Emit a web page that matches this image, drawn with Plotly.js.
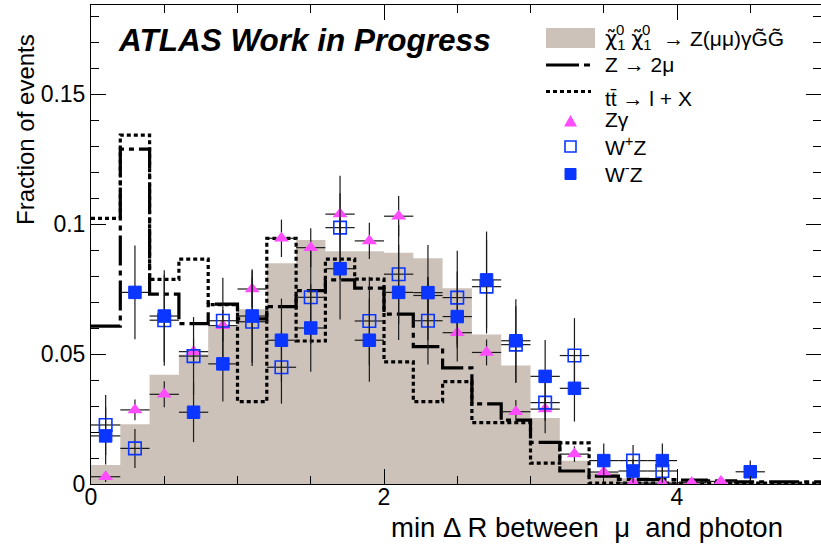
<!DOCTYPE html>
<html>
<head>
<meta charset="utf-8">
<script src="https://cdn.plot.ly/plotly-3.0.1.min.js"></script>
<style>
  html, body { margin: 0; padding: 0; background: #ffffff; overflow: hidden; }
  #chart { width: 821px; height: 549px; }
</style>
</head>
<body>
<div id="chart"></div>
<script>
// min ΔR(μ, γ) distributions, normalised to unit area, 25 bins of width 0.2 on [0, 5]
const binLow = 0.0;
const binWidth = 0.2;
const nBins = 25;

// Signal: χ̃⁰₁χ̃⁰₁ → Z(μμ)γG̃G̃ (filled histogram)
const signal = [0.0073, 0.0230, 0.0420, 0.0498, 0.0605, 0.0672, 0.0849, 0.0938, 0.0895, 0.0895,
                0.0889, 0.0868, 0.0753, 0.0575, 0.0456, 0.0254, 0.0089, 0.0041, 0.0022, 0.0010,
                0.0008, 0.0005, 0.0003, 0.0002, 0.0002];

// Z → 2μ (dash-dot histogram)
const zmumu = [0.0607, 0.1288, 0.0730, 0.0617, 0.0692, 0.0635, 0.0682, 0.0744, 0.0785, 0.0753,
               0.0653, 0.0528, 0.0447, 0.0308, 0.0246, 0.0160, 0.0050, 0.0030, 0.0018, 0.0017,
               0.0015, 0.0012, 0.0008, 0.0008, 0.0008];

// tt̄ → l + X (dotted histogram)
const ttbar = [0.1022, 0.1342, 0.0787, 0.0865, 0.0690, 0.0317, 0.0945, 0.0550, 0.0865, 0.0788,
               0.0470, 0.0317, 0.0394, 0.0236, 0.0236, 0.0080, 0.0158, 0.0003, 0.0003, 0.0003,
               0.0003, 0.0003, 0.0003, 0.0003, 0.0003];

// Zγ (points with statistical errors)
const zgamma = [0.0028, 0.0285, 0.0345, 0.0509, 0.0609, 0.0750, 0.0945, 0.0909, 0.1038, 0.0935,
                0.1030, 0.0725, 0.0582, 0.0506, 0.0278, 0.0288, 0.0115, 0.0046, 0.0004, 0.0003,
                0.0005, 0.0010, null, null, null];
const zgammaErr = [0.0020, 0.0040, 0.0050, 0.0050, 0.0060, 0.0070, 0.0072, 0.0075, 0.0080, 0.0070,
                   0.0078, 0.0070, 0.0060, 0.0050, 0.0045, 0.0045, 0.0030, 0.0020, 0.0005, 0.0005,
                   0.0005, 0.0008, null, null, null];

// W+Z
const wplusz = [0.0227, 0.0137, 0.0630, 0.0492, 0.0628, 0.0624, 0.0449, 0.0718, 0.0986, 0.0627,
                0.0807, 0.0628, 0.0717, 0.0759, 0.0536, 0.0313, 0.0494, null, 0.0090, 0.0050,
                null, null, null, null, null];
const wpluszErr = [0.0115, 0.0075, 0.0175, 0.0150, 0.0165, 0.0170, 0.0140, 0.0180, 0.0200, 0.0170,
                   0.0190, 0.0168, 0.0180, 0.0180, 0.0148, 0.0118, 0.0144, null, 0.0060, 0.0045,
                   null, null, null, null, null];

// W−Z
const wminusz = [0.0185, 0.0737, 0.0646, 0.0276, 0.0462, 0.0646, 0.0553, 0.0600, 0.0828, 0.0553,
                 0.0737, 0.0736, 0.0644, 0.0785, 0.0551, 0.0414, 0.0368, 0.0090, 0.0050, 0.0090,
                 null, null, 0.0047, null, null];
const wminuszErr = [0.0110, 0.0180, 0.0176, 0.0115, 0.0145, 0.0180, 0.0160, 0.0168, 0.0195, 0.0160,
                    0.0183, 0.0183, 0.0173, 0.0186, 0.0160, 0.0140, 0.0128, 0.0066, 0.0045, 0.0066,
                    null, null, 0.0043, null, null];

const xTickVals = [0, 2, 4];
const xTickText = ['0', '2', '4'];
const yTickVals = [0, 0.05, 0.1, 0.15];
const yTickText = ['0', '0.05', '0.1', '0.15'];

// ---------------------------------------------------------------------------
const edges = [];
for (let i = 0; i <= nBins; i++) edges.push(+(binLow + i * binWidth).toFixed(3));
const centers = edges.slice(0, -1).map(e => +(e + binWidth / 2).toFixed(3));
const halfWidth = binWidth / 2;

// histogram drawn as a step line over the bin edges
function stepY(vals) { return vals.concat([vals[vals.length - 1]]); }

const FONT = 'Liberation Sans, Arial, Helvetica, sans-serif';
const TAN = '#cdc2b9';
const BLUE = '#0a36ff';
const MAGENTA = '#ff4cff';
const ERR = '#1a1a1a';

const traces = [
  {
    x: edges, y: stepY(signal), type: 'scatter', mode: 'lines',
    line: { shape: 'hv', width: 0, color: TAN }, fill: 'tozeroy', fillcolor: TAN,
    hoverinfo: 'skip', showlegend: false
  },
  {
    x: edges, y: stepY(zmumu), type: 'scatter', mode: 'lines',
    line: { shape: 'hv', width: 3.2, color: '#000000', dash: '30px,5px,5px,5px' },
    showlegend: false
  },
  {
    x: edges, y: stepY(ttbar), type: 'scatter', mode: 'lines',
    line: { shape: 'hv', width: 3.2, color: '#000000', dash: '4px,3px' },
    showlegend: false
  },
  {
    x: centers, y: zgamma, type: 'scatter', mode: 'markers',
    marker: { symbol: 'triangle-up', size: 13, color: MAGENTA },
    error_y: { type: 'data', array: zgammaErr, visible: true, color: ERR, thickness: 1.2, width: 0 },
    error_x: { type: 'constant', value: halfWidth, visible: true, color: ERR, thickness: 1.2, width: 0 },
    showlegend: false
  },
  {
    x: centers, y: wplusz, type: 'scatter', mode: 'markers',
    marker: { symbol: 'square-open', size: 12.5, color: BLUE, line: { width: 1.6, color: BLUE } },
    error_y: { type: 'data', array: wpluszErr, visible: true, color: ERR, thickness: 1.2, width: 0 },
    error_x: { type: 'constant', value: halfWidth, visible: true, color: ERR, thickness: 1.2, width: 0 },
    showlegend: false
  },
  {
    x: centers, y: wminusz, type: 'scatter', mode: 'markers',
    marker: { symbol: 'square', size: 12.5, color: BLUE, line: { width: 1, color: BLUE } },
    error_y: { type: 'data', array: wminuszErr, visible: true, color: ERR, thickness: 1.2, width: 0 },
    error_x: { type: 'constant', value: halfWidth, visible: true, color: ERR, thickness: 1.2, width: 0 },
    showlegend: false
  }
];

// frame geometry in pixels
const W = 821, H = 549;
const M = { l: 91, r: 0, t: 5, b: 65 };
const PW = W - M.l - M.r, PH = H - M.t - M.b;
const px = v => (v - M.l) / PW;          // pixel column -> paper x
const py = v => (H - M.b - v) / PH;      // pixel row -> paper y

// legend key
const legendShapes = [
  { type: 'rect', xref: 'paper', yref: 'paper', x0: px(546), x1: px(595), y0: py(48), y1: py(28),
    fillcolor: TAN, line: { width: 0 } },
  { type: 'line', xref: 'paper', yref: 'paper', x0: px(546), x1: px(592), y0: py(65), y1: py(65),
    line: { color: '#000', width: 3.2, dash: '33px,5px,6px,5px' } },
  { type: 'line', xref: 'paper', yref: 'paper', x0: px(546), x1: px(591), y0: py(91.5), y1: py(91.5),
    line: { color: '#000', width: 3.2, dash: '4px,3px' } },
  { type: 'path', xref: 'paper', yref: 'paper',
    path: `M ${px(564)} ${py(126.5)} L ${px(577)} ${py(126.5)} L ${px(570.5)} ${py(115)} Z`,
    fillcolor: MAGENTA, line: { width: 0 } },
  { type: 'rect', xref: 'paper', yref: 'paper', x0: px(565), x1: px(576), y0: py(152), y1: py(141),
    fillcolor: '#ffffff', line: { color: BLUE, width: 1.6 } },
  { type: 'rect', xref: 'paper', yref: 'paper', x0: px(565), x1: px(576), y0: py(179.5), y1: py(168.5),
    fillcolor: BLUE, line: { color: BLUE, width: 1 } }
];

function legText(txt, yPix, xPix) {
  return { xref: 'paper', yref: 'paper', x: px(xPix || 603), y: py(yPix), xanchor: 'left', yanchor: 'middle',
           text: txt, showarrow: false, font: { family: FONT, size: 21, color: '#000' } };
}

const chiTilde = '<span style="font-family:DejaVu Sans">χ̃</span>';

const annotations = [
  { xref: 'paper', yref: 'paper', x: px(116), y: py(40), xanchor: 'left', yanchor: 'middle',
    text: '<b><i>ATLAS Work in Progress</i></b>', showarrow: false,
    font: { family: FONT, size: 31.5, color: '#000' } },
  legText(chiTilde + '<sub>1</sub> ' + chiTilde + '<sub>1</sub>&nbsp;&nbsp;→ Z(μμ)γG̃G̃', 40),
  // superscript 0 stacked over the subscript 1 of each neutralino
  legText('<span style="font-size:15px">0</span>', 29, 613.5),
  legText('<span style="font-size:15px">0</span>', 29, 639.5),
  legText('Z → 2μ', 64),
  legText('tt̄ → l + X', 98),
  legText('Zγ', 120),
  legText('W<sup>+</sup>Z', 146),
  legText('W<sup>-</sup>Z', 173),
  { xref: 'paper', yref: 'paper', x: px(25), y: py(130), xanchor: 'center', yanchor: 'middle',
    textangle: -90, text: 'Fraction of events', showarrow: false,
    font: { family: FONT, size: 24, color: '#000' } },
  { xref: 'paper', yref: 'paper', x: px(785), y: py(527), xanchor: 'right', yanchor: 'middle',
    text: 'min Δ R between&nbsp; μ&nbsp; and photon', showarrow: false,
    font: { family: FONT, size: 27.5, color: '#000' } }
];

const layout = {
  width: W, height: H,
  margin: M,
  paper_bgcolor: '#ffffff', plot_bgcolor: '#ffffff',
  showlegend: false,
  font: { family: FONT, color: '#000' },
  xaxis: {
    range: [0, PW / 146.5], showgrid: false, zeroline: false,
    showline: true, linecolor: '#000', linewidth: 1, mirror: 'ticks',
    ticks: 'inside', ticklen: 15, tickwidth: 1, tickcolor: '#000',
    tickvals: xTickVals, ticktext: xTickText, ticklabelstandoff: -8,
    tickfont: { family: FONT, size: 23, color: '#000' },
    minor: { dtick: 0.5, ticks: 'inside', ticklen: 8, tickwidth: 1, tickcolor: '#000', showgrid: false }
  },
  yaxis: {
    range: [0, PH / 2600], showgrid: false, zeroline: false,
    showline: true, linecolor: '#000', linewidth: 1, mirror: 'ticks',
    ticks: 'inside', ticklen: 15, tickwidth: 1, tickcolor: '#000',
    tickvals: yTickVals, ticktext: yTickText,
    tickfont: { family: FONT, size: 23, color: '#000' },
    minor: { dtick: 0.01, ticks: 'inside', ticklen: 8, tickwidth: 1, tickcolor: '#000', showgrid: false }
  },
  shapes: legendShapes,
  annotations: annotations
};

Plotly.newPlot('chart', traces, layout, { staticPlot: true, displayModeBar: false });
</script>
</body>
</html>
